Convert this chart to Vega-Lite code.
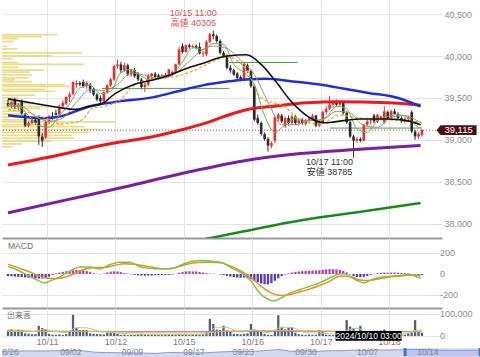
{
  "$schema": "https://vega.github.io/schema/vega-lite/v6.json",
  "padding": 0,
  "background": "white",
  "spacing": 0,
  "config": {
    "view": {"stroke": null},
    "font": "Liberation Sans, Noto Sans CJK JP",
    "axis": {"labelColor": "#8c8c8c", "labelFontSize": 9, "labelFont": "Liberation Sans", "gridColor": "#e3e3e3", "title": null, "domain": false, "ticks": false, "labelOverlap": false}
  },
  "datasets": {
    "candles": [
      {"i":0,"o":39440,"h":39480,"l":39390,"c":39410},{"i":1,"o":39410,"h":39460,"l":39380,"c":39450},{"i":2,"o":39480,"h":39500,"l":39370,"c":39390},{"i":3,"o":39390,"h":39440,"l":39350,"c":39420},
      {"i":4,"o":39460,"h":39480,"l":39300,"c":39315},{"i":5,"o":39300,"h":39320,"l":39150,"c":39170},{"i":6,"o":39170,"h":39220,"l":39150,"c":39200},{"i":7,"o":39200,"h":39260,"l":39180,"c":39240},
      {"i":8,"o":39240,"h":39260,"l":39180,"c":39200},{"i":9,"o":39270,"h":39290,"l":38940,"c":39040},{"i":10,"o":39040,"h":39080,"l":38915,"c":38990},{"i":11,"o":39030,"h":39230,"l":39010,"c":39215},
      {"i":12,"o":39215,"h":39300,"l":39190,"c":39280},{"i":13,"o":39280,"h":39330,"l":39240,"c":39260},{"i":14,"o":39320,"h":39360,"l":39290,"c":39300},{"i":15,"o":39300,"h":39420,"l":39280,"c":39400},
      {"i":16,"o":39400,"h":39470,"l":39380,"c":39440},{"i":17,"o":39430,"h":39520,"l":39410,"c":39510},{"i":18,"o":39510,"h":39570,"l":39450,"c":39540},{"i":19,"o":39550,"h":39700,"l":39530,"c":39690},
      {"i":20,"o":39660,"h":39710,"l":39620,"c":39680},{"i":21,"o":39680,"h":39700,"l":39640,"c":39660},{"i":22,"o":39690,"h":39720,"l":39620,"c":39640},{"i":23,"o":39640,"h":39700,"l":39610,"c":39680},
      {"i":24,"o":39660,"h":39680,"l":39560,"c":39590},{"i":25,"o":39610,"h":39630,"l":39520,"c":39540},{"i":26,"o":39540,"h":39560,"l":39460,"c":39480},{"i":27,"o":39500,"h":39530,"l":39430,"c":39460},
      {"i":28,"o":39460,"h":39580,"l":39440,"c":39570},{"i":29,"o":39570,"h":39660,"l":39550,"c":39650},{"i":30,"o":39650,"h":39740,"l":39630,"c":39720},{"i":31,"o":39720,"h":39900,"l":39700,"c":39880},
      {"i":32,"o":39880,"h":39960,"l":39850,"c":39900},{"i":33,"o":39900,"h":39930,"l":39800,"c":39830},{"i":34,"o":39830,"h":39920,"l":39810,"c":39890},{"i":35,"o":39890,"h":39910,"l":39760,"c":39780},
      {"i":36,"o":39780,"h":39850,"l":39750,"c":39830},{"i":37,"o":39830,"h":39860,"l":39740,"c":39760},{"i":38,"o":39790,"h":39810,"l":39700,"c":39720},{"i":39,"o":39720,"h":39740,"l":39600,"c":39630},
      {"i":40,"o":39630,"h":39680,"l":39570,"c":39660},{"i":41,"o":39660,"h":39790,"l":39640,"c":39770},{"i":42,"o":39760,"h":39800,"l":39720,"c":39790},{"i":43,"o":39790,"h":39810,"l":39730,"c":39750},
      {"i":44,"o":39770,"h":39790,"l":39720,"c":39740},{"i":45,"o":39750,"h":39790,"l":39730,"c":39770},{"i":46,"o":39770,"h":39800,"l":39745,"c":39760},{"i":47,"o":39760,"h":39850,"l":39750,"c":39840},
      {"i":48,"o":39780,"h":39830,"l":39760,"c":39810},{"i":49,"o":39810,"h":39910,"l":39790,"c":39900},{"i":50,"o":39900,"h":40110,"l":39890,"c":40080},{"i":51,"o":40120,"h":40150,"l":40030,"c":40050},
      {"i":52,"o":40050,"h":40140,"l":40040,"c":40130},{"i":53,"o":40130,"h":40150,"l":40090,"c":40110},{"i":54,"o":40110,"h":40140,"l":40090,"c":40120},{"i":55,"o":40120,"h":40140,"l":40080,"c":40100},
      {"i":56,"o":40110,"h":40160,"l":40020,"c":40030},{"i":57,"o":40030,"h":40060,"l":39990,"c":40040},{"i":58,"o":40020,"h":40190,"l":40000,"c":40170},{"i":59,"o":40170,"h":40280,"l":40150,"c":40260},
      {"i":60,"o":40260,"h":40305,"l":40200,"c":40240},{"i":61,"o":40240,"h":40260,"l":40160,"c":40180},{"i":62,"o":40180,"h":40200,"l":40020,"c":40040},{"i":63,"o":40040,"h":40060,"l":39980,"c":40000},
      {"i":64,"o":40000,"h":40020,"l":39840,"c":39860},{"i":65,"o":39860,"h":39890,"l":39800,"c":39830},{"i":66,"o":39830,"h":39850,"l":39760,"c":39780},{"i":67,"o":39790,"h":39810,"l":39720,"c":39740},
      {"i":68,"o":39750,"h":39770,"l":39700,"c":39720},{"i":69,"o":39720,"h":39930,"l":39700,"c":39910},{"i":70,"o":39890,"h":39910,"l":39800,"c":39820},{"i":71,"o":39820,"h":39840,"l":39620,"c":39640},
      {"i":72,"o":39640,"h":39660,"l":39220,"c":39240},{"i":73,"o":39260,"h":39300,"l":39180,"c":39200},{"i":74,"o":39200,"h":39220,"l":39050,"c":39070},{"i":75,"o":39070,"h":39090,"l":38990,"c":39010},
      {"i":76,"o":39010,"h":39030,"l":38860,"c":38930},{"i":77,"o":38930,"h":38980,"l":38900,"c":38960},{"i":78,"o":38990,"h":39290,"l":38960,"c":39270},{"i":79,"o":39250,"h":39320,"l":39220,"c":39300},
      {"i":80,"o":39290,"h":39310,"l":39200,"c":39220},{"i":81,"o":39160,"h":39280,"l":39140,"c":39260},{"i":82,"o":39260,"h":39290,"l":39170,"c":39200},{"i":83,"o":39200,"h":39300,"l":39180,"c":39280},
      {"i":84,"o":39280,"h":39300,"l":39180,"c":39200},{"i":85,"o":39200,"h":39260,"l":39170,"c":39240},{"i":86,"o":39240,"h":39260,"l":39180,"c":39200},{"i":87,"o":39190,"h":39250,"l":39170,"c":39230},
      {"i":88,"o":39230,"h":39270,"l":39200,"c":39250},{"i":89,"o":39250,"h":39310,"l":39230,"c":39290},{"i":90,"o":39290,"h":39300,"l":39150,"c":39170},{"i":91,"o":39170,"h":39230,"l":39150,"c":39210},
      {"i":92,"o":39210,"h":39350,"l":39190,"c":39330},{"i":93,"o":39330,"h":39400,"l":39300,"c":39370},{"i":94,"o":39370,"h":39520,"l":39350,"c":39420},{"i":95,"o":39420,"h":39470,"l":39380,"c":39450},
      {"i":96,"o":39450,"h":39480,"l":39400,"c":39420},{"i":97,"o":39420,"h":39460,"l":39400,"c":39440},{"i":98,"o":39440,"h":39460,"l":39300,"c":39320},{"i":99,"o":39320,"h":39340,"l":39190,"c":39210},
      {"i":100,"o":39210,"h":39230,"l":39020,"c":39040},{"i":101,"o":39040,"h":39060,"l":38785,"c":38990},{"i":102,"o":38990,"h":39030,"l":38960,"c":39010},{"i":103,"o":39010,"h":39030,"l":38970,"c":38990},
      {"i":104,"o":38990,"h":39190,"l":38980,"c":39180},{"i":105,"o":39180,"h":39240,"l":39160,"c":39220},{"i":106,"o":39220,"h":39260,"l":39190,"c":39230},{"i":107,"o":39290,"h":39310,"l":39200,"c":39220},
      {"i":108,"o":39220,"h":39310,"l":39200,"c":39300},{"i":109,"o":39250,"h":39290,"l":39230,"c":39280},{"i":110,"o":39210,"h":39400,"l":39190,"c":39340},{"i":111,"o":39330,"h":39350,"l":39240,"c":39260},
      {"i":112,"o":39260,"h":39360,"l":39240,"c":39340},{"i":113,"o":39340,"h":39370,"l":39300,"c":39310},{"i":114,"o":39310,"h":39330,"l":39240,"c":39260},{"i":115,"o":39260,"h":39280,"l":39200,"c":39220},
      {"i":116,"o":39220,"h":39270,"l":39200,"c":39250},{"i":117,"o":39250,"h":39290,"l":39230,"c":39270},{"i":118,"o":39330,"h":39350,"l":39080,"c":39100},{"i":119,"o":39100,"h":39120,"l":39000,"c":39040},
      {"i":120,"o":39040,"h":39090,"l":39010,"c":39070},{"i":121,"o":39060,"h":39130,"l":39040,"c":39115}
    ],
    "prof": [
      {"p":40255,"vol":55},{"p":40232,"vol":40},{"p":40209,"vol":17},{"p":40175,"vol":12},{"p":40118,"vol":5},{"p":40084,"vol":15},
      {"p":40038,"vol":80},{"p":40003,"vol":50},{"p":39969,"vol":10},{"p":39923,"vol":17},{"p":39900,"vol":82},{"p":39866,"vol":17},
      {"p":39832,"vol":42},{"p":39809,"vol":28},{"p":39775,"vol":30},{"p":39740,"vol":27},{"p":39717,"vol":13},{"p":39695,"vol":30},
      {"p":39660,"vol":63},{"p":39637,"vol":67},{"p":39603,"vol":43},{"p":39580,"vol":53},{"p":39534,"vol":33},{"p":39500,"vol":17},
      {"p":39466,"vol":12},{"p":39431,"vol":32},{"p":39397,"vol":57},{"p":39374,"vol":38},{"p":39340,"vol":18},{"p":39306,"vol":25},
      {"p":39271,"vol":40},{"p":39237,"vol":38},{"p":39214,"vol":113},{"p":39180,"vol":60},{"p":39157,"vol":83},{"p":39123,"vol":100},
      {"p":39088,"vol":87},{"p":39054,"vol":70},{"p":39020,"vol":72},{"p":38985,"vol":50},{"p":38951,"vol":20},{"p":38917,"vol":10}
    ],
    "ma": [
      {"s":"h1","i":27.4,"v":39614},{"s":"h1","i":64.6,"v":39614},
      {"s":"h2","i":64.6,"v":39923},{"s":"h2","i":84.6,"v":39923},
      {"s":"h3","i":94,"v":39140},{"s":"h3","i":120.6,"v":39140},
      {"s":"g","i":56.8,"v":37808},{"s":"g","i":68.3,"v":37902},{"s":"g","i":85.4,"v":38036},{"s":"g","i":102.6,"v":38139},{"s":"g","i":120.6,"v":38245},
      {"s":"p","i":0,"v":38128},{"s":"p","i":16.8,"v":38280},{"s":"p","i":34,"v":38436},{"s":"p","i":51.1,"v":38600},{"s":"p","i":68.3,"v":38745},{"s":"p","i":85.4,"v":38836},{"s":"p","i":102.6,"v":38886},{"s":"p","i":120.6,"v":38932},
      {"s":"r","i":0,"v":38699},{"s":"r","i":14,"v":38810},{"s":"r","i":28.3,"v":38940},{"s":"r","i":42.6,"v":39040},{"s":"r","i":51.1,"v":39123},{"s":"r","i":58.8,"v":39214},{"s":"r","i":64,"v":39290},{"s":"r","i":69.7,"v":39360},{"s":"r","i":76.9,"v":39397},{"s":"r","i":87.4,"v":39443},{"s":"r","i":96.9,"v":39454},{"s":"r","i":111.1,"v":39443},{"s":"r","i":120.6,"v":39414},
      {"s":"b","i":0,"v":39294},{"s":"b","i":5.4,"v":39271},{"s":"b","i":10.3,"v":39258},{"s":"b","i":15.4,"v":39280},{"s":"b","i":19.7,"v":39340},{"s":"b","i":24,"v":39400},{"s":"b","i":31.1,"v":39450},{"s":"b","i":42.6,"v":39510},{"s":"b","i":49.7,"v":39580},{"s":"b","i":56.9,"v":39650},{"s":"b","i":64,"v":39695},{"s":"b","i":69.7,"v":39720},{"s":"b","i":75.4,"v":39729},{"s":"b","i":82.6,"v":39700},{"s":"b","i":91.1,"v":39660},{"s":"b","i":98.3,"v":39610},{"s":"b","i":105.4,"v":39560},{"s":"b","i":114,"v":39500},{"s":"b","i":120.6,"v":39400},
      {"s":"y","i":0,"v":39360},{"s":"y","i":5.4,"v":39330},{"s":"y","i":11.1,"v":39260},{"s":"y","i":15.4,"v":39190},{"s":"y","i":18.3,"v":39200},{"s":"y","i":21.7,"v":39240},{"s":"y","i":24.8,"v":39380},{"s":"y","i":28.3,"v":39400},{"s":"y","i":32.6,"v":39470},{"s":"y","i":36.8,"v":39650},{"s":"y","i":42.6,"v":39730},{"s":"y","i":48.3,"v":39750},{"s":"y","i":54,"v":39820},{"s":"y","i":59.7,"v":39930},{"s":"y","i":64,"v":39990},{"s":"y","i":69.7,"v":39840},{"s":"y","i":74,"v":39500},{"s":"y","i":81.1,"v":39390},{"s":"y","i":85.4,"v":39230},{"s":"y","i":91.1,"v":39190},{"s":"y","i":96.9,"v":39294},{"s":"y","i":102.6,"v":39260},{"s":"y","i":108.3,"v":39250},{"s":"y","i":114,"v":39230},{"s":"y","i":120.6,"v":39214},
      {"s":"br","i":0,"v":39420},{"s":"br","i":4,"v":39400},{"s":"br","i":8,"v":39280},{"s":"br","i":12,"v":39220},{"s":"br","i":16,"v":39260},{"s":"br","i":20,"v":39450},{"s":"br","i":24,"v":39600},{"s":"br","i":28,"v":39590},{"s":"br","i":32,"v":39660},{"s":"br","i":36,"v":39800},{"s":"br","i":40,"v":39770},{"s":"br","i":44,"v":39730},{"s":"br","i":48,"v":39770},{"s":"br","i":52,"v":39900},{"s":"br","i":56,"v":40050},{"s":"br","i":60,"v":40120},{"s":"br","i":64,"v":40090},{"s":"br","i":68,"v":39950},{"s":"br","i":72,"v":39780},{"s":"br","i":76,"v":39450},{"s":"br","i":80,"v":39180},{"s":"br","i":84,"v":39180},{"s":"br","i":88,"v":39230},{"s":"br","i":92,"v":39240},{"s":"br","i":96,"v":39340},{"s":"br","i":100,"v":39320},{"s":"br","i":104,"v":39170},{"s":"br","i":108,"v":39150},{"s":"br","i":112,"v":39270},{"s":"br","i":116,"v":39290},{"s":"br","i":120,"v":39220},{"s":"br","i":121,"v":39200},
      {"s":"g5","i":0,"v":39400},{"s":"g5","i":3,"v":39400},{"s":"g5","i":6,"v":39290},{"s":"g5","i":9,"v":39170},{"s":"g5","i":12,"v":39150},{"s":"g5","i":15,"v":39290},{"s":"g5","i":18,"v":39430},{"s":"g5","i":21,"v":39620},{"s":"g5","i":24,"v":39650},{"s":"g5","i":27,"v":39550},{"s":"g5","i":30,"v":39580},{"s":"g5","i":33,"v":39800},{"s":"g5","i":36,"v":39840},{"s":"g5","i":39,"v":39760},{"s":"g5","i":42,"v":39710},{"s":"g5","i":45,"v":39760},{"s":"g5","i":48,"v":39790},{"s":"g5","i":51,"v":39930},{"s":"g5","i":54,"v":40100},{"s":"g5","i":57,"v":40080},{"s":"g5","i":60,"v":40150},{"s":"g5","i":63,"v":40140},{"s":"g5","i":66,"v":39900},{"s":"g5","i":69,"v":39800},{"s":"g5","i":72,"v":39660},{"s":"g5","i":75,"v":39290},{"s":"g5","i":78,"v":39090},{"s":"g5","i":81,"v":39180},{"s":"g5","i":84,"v":39250},{"s":"g5","i":87,"v":39230},{"s":"g5","i":90,"v":39230},{"s":"g5","i":93,"v":39270},{"s":"g5","i":96,"v":39400},{"s":"g5","i":99,"v":39370},{"s":"g5","i":102,"v":39130},{"s":"g5","i":105,"v":39090},{"s":"g5","i":108,"v":39230},{"s":"g5","i":111,"v":39280},{"s":"g5","i":114,"v":39300},{"s":"g5","i":117,"v":39260},{"s":"g5","i":120,"v":39150},{"s":"g5","i":121,"v":39140},
      {"s":"k","i":0,"v":39489},{"s":"k","i":8.3,"v":39431},{"s":"k","i":14.8,"v":39386},{"s":"k","i":19.7,"v":39363},{"s":"k","i":23.4,"v":39397},{"s":"k","i":27.4,"v":39431},{"s":"k","i":31.1,"v":39546},{"s":"k","i":36.8,"v":39660},{"s":"k","i":42.6,"v":39717},{"s":"k","i":47.4,"v":39775},{"s":"k","i":53.1,"v":39866},{"s":"k","i":57.7,"v":39923},{"s":"k","i":61.7,"v":39980},{"s":"k","i":64.6,"v":40003},{"s":"k","i":69.7,"v":40015},{"s":"k","i":74,"v":39900},{"s":"k","i":78.3,"v":39695},{"s":"k","i":82.6,"v":39466},{"s":"k","i":85.4,"v":39351},{"s":"k","i":88.3,"v":39260},{"s":"k","i":92.6,"v":39203},{"s":"k","i":95.4,"v":39214},{"s":"k","i":102.6,"v":39249},{"s":"k","i":111.1,"v":39249},{"s":"k","i":116.9,"v":39226},{"s":"k","i":120.6,"v":39180}
    ],
    "tag": [{"p":39115,"lab":"39,115"}],
    "hi": [{"i":60,"p":40305,"t":["10/15 11:00","高値 40305"]}],
    "lo": [{"i":101,"p":38785,"t":["10/17 11:00","安値 38785"]}],
    "hist": [
      {"i":0,"h":-20},{"i":1,"h":-22},{"i":2,"h":-25},{"i":3,"h":-27},{"i":4,"h":-30},{"i":5,"h":-33},{"i":6,"h":-36},{"i":7,"h":-38},{"i":8,"h":-41},{"i":9,"h":-44},
      {"i":10,"h":-43},{"i":11,"h":-38},{"i":12,"h":-25},{"i":13,"h":-8},{"i":14,"h":6},{"i":15,"h":14},{"i":16,"h":20},{"i":17,"h":27},{"i":18,"h":32},{"i":19,"h":36},
      {"i":20,"h":38},{"i":21,"h":37},{"i":22,"h":33},{"i":23,"h":27},{"i":24,"h":18},{"i":25,"h":8},{"i":26,"h":2},{"i":27,"h":-2},{"i":28,"h":4},{"i":29,"h":14},
      {"i":30,"h":22},{"i":31,"h":25},{"i":32,"h":24},{"i":33,"h":18},{"i":34,"h":10},{"i":35,"h":4},{"i":36,"h":-3},{"i":37,"h":-9},{"i":38,"h":-13},{"i":39,"h":-15},
      {"i":40,"h":-16},{"i":41,"h":-15},{"i":42,"h":-14},{"i":43,"h":-12},{"i":44,"h":-11},{"i":45,"h":-10},{"i":46,"h":-9},{"i":47,"h":-8},{"i":48,"h":-5},{"i":49,"h":2},
      {"i":50,"h":12},{"i":51,"h":20},{"i":52,"h":24},{"i":53,"h":26},{"i":54,"h":25},{"i":55,"h":24},{"i":56,"h":20},{"i":57,"h":14},{"i":58,"h":8},{"i":59,"h":4},
      {"i":60,"h":3},{"i":61,"h":0},{"i":62,"h":-4},{"i":63,"h":-10},{"i":64,"h":-18},{"i":65,"h":-24},{"i":66,"h":-30},{"i":67,"h":-34},{"i":68,"h":-36},{"i":69,"h":-34},
      {"i":70,"h":-40},{"i":71,"h":-50},{"i":72,"h":-65},{"i":73,"h":-78},{"i":74,"h":-90},{"i":75,"h":-98},{"i":76,"h":-100},{"i":77,"h":-88},{"i":78,"h":-65},{"i":79,"h":-42},
      {"i":80,"h":-20},{"i":81,"h":-5},{"i":82,"h":6},{"i":83,"h":14},{"i":84,"h":20},{"i":85,"h":24},{"i":86,"h":27},{"i":87,"h":29},{"i":88,"h":32},{"i":89,"h":34},
      {"i":90,"h":34},{"i":91,"h":36},{"i":92,"h":40},{"i":93,"h":44},{"i":94,"h":47},{"i":95,"h":46},{"i":96,"h":44},{"i":97,"h":40},{"i":98,"h":30},{"i":99,"h":15},
      {"i":100,"h":-5},{"i":101,"h":-20},{"i":102,"h":-28},{"i":103,"h":-31},{"i":104,"h":-27},{"i":105,"h":-18},{"i":106,"h":-8},{"i":107,"h":2},{"i":108,"h":8},{"i":109,"h":11},
      {"i":110,"h":13},{"i":111,"h":12},{"i":112,"h":13},{"i":113,"h":14},{"i":114,"h":13},{"i":115,"h":10},{"i":116,"h":8},{"i":117,"h":6},{"i":118,"h":0},{"i":119,"h":-6},
      {"i":120,"h":-9},{"i":121,"h":-10}
    ],
    "macd": [
      {"s":"m","i":0,"v":72},{"s":"m","i":2.6,"v":40},{"s":"m","i":5.4,"v":-7},{"s":"m","i":8.3,"v":-54},{"s":"m","i":10.6,"v":-85},{"s":"m","i":12.6,"v":-63},{"s":"m","i":15.4,"v":-22},{"s":"m","i":18.3,"v":31},{"s":"m","i":21.1,"v":66},{"s":"m","i":24,"v":66},{"s":"m","i":26.8,"v":47},{"s":"m","i":29.7,"v":88},{"s":"m","i":32.6,"v":113},{"s":"m","i":35.4,"v":113},{"s":"m","i":38.3,"v":72},{"s":"m","i":41.1,"v":56},{"s":"m","i":45.4,"v":50},{"s":"m","i":48.3,"v":56},{"s":"m","i":51.1,"v":94},{"s":"m","i":54,"v":122},{"s":"m","i":56.9,"v":129},{"s":"m","i":59.7,"v":122},{"s":"m","i":62.6,"v":107},{"s":"m","i":65.4,"v":56},{"s":"m","i":68.3,"v":9},{"s":"m","i":71.1,"v":-70},{"s":"m","i":73.1,"v":-164},{"s":"m","i":75.4,"v":-230},{"s":"m","i":77.7,"v":-258},{"s":"m","i":79.7,"v":-230},{"s":"m","i":82.6,"v":-180},{"s":"m","i":85.4,"v":-148},{"s":"m","i":88.3,"v":-117},{"s":"m","i":91.1,"v":-85},{"s":"m","i":94,"v":-38},{"s":"m","i":96.9,"v":0},{"s":"m","i":98.3,"v":3},{"s":"m","i":99.7,"v":-22},{"s":"m","i":102.6,"v":-70},{"s":"m","i":104,"v":-85},{"s":"m","i":106.3,"v":-54},{"s":"m","i":109.1,"v":-31},{"s":"m","i":112,"v":-22},{"s":"m","i":114.9,"v":-13},{"s":"m","i":117.7,"v":-6},{"s":"m","i":119.7,"v":-31},{"s":"m","i":120.6,"v":-38},
      {"s":"sg","i":0,"v":94},{"s":"sg","i":2.6,"v":63},{"s":"sg","i":5.4,"v":31},{"s":"sg","i":8.3,"v":-7},{"s":"sg","i":11.1,"v":-38},{"s":"sg","i":14,"v":-44},{"s":"sg","i":16.9,"v":-28},{"s":"sg","i":19.7,"v":9},{"s":"sg","i":22.6,"v":47},{"s":"sg","i":25.4,"v":63},{"s":"sg","i":28.3,"v":63},{"s":"sg","i":31.1,"v":82},{"s":"sg","i":34,"v":97},{"s":"sg","i":36.9,"v":94},{"s":"sg","i":39.7,"v":79},{"s":"sg","i":42.6,"v":63},{"s":"sg","i":45.4,"v":50},{"s":"sg","i":48.3,"v":56},{"s":"sg","i":51.1,"v":82},{"s":"sg","i":54,"v":104},{"s":"sg","i":56.9,"v":113},{"s":"sg","i":59.7,"v":113},{"s":"sg","i":62.6,"v":104},{"s":"sg","i":65.4,"v":72},{"s":"sg","i":68.3,"v":25},{"s":"sg","i":71.1,"v":-38},{"s":"sg","i":74,"v":-117},{"s":"sg","i":76.9,"v":-180},{"s":"sg","i":79.7,"v":-205},{"s":"sg","i":82.6,"v":-195},{"s":"sg","i":85.4,"v":-170},{"s":"sg","i":88.3,"v":-142},{"s":"sg","i":91.1,"v":-110},{"s":"sg","i":94,"v":-70},{"s":"sg","i":96.9,"v":-22},{"s":"sg","i":99.7,"v":-22},{"s":"sg","i":102.6,"v":-54},{"s":"sg","i":105.4,"v":-63},{"s":"sg","i":108.3,"v":-47},{"s":"sg","i":111.1,"v":-31},{"s":"sg","i":114,"v":-22},{"s":"sg","i":116.9,"v":-13},{"s":"sg","i":119.7,"v":-13},{"s":"sg","i":120.6,"v":-16}
    ],
    "vol": [
      {"i":0,"v":25000},{"i":1,"v":30000},{"i":2,"v":24000},{"i":3,"v":29000},{"i":4,"v":27000},{"i":5,"v":12000},{"i":6,"v":10000},{"i":7,"v":8000},{"i":8,"v":9000},{"i":9,"v":46000},
      {"i":10,"v":36000},{"i":11,"v":30000},{"i":12,"v":10000},{"i":13,"v":6000},{"i":14,"v":5000},{"i":15,"v":7000},{"i":16,"v":5000},{"i":17,"v":8000},{"i":18,"v":20000},{"i":19,"v":96000},
      {"i":20,"v":36000},{"i":21,"v":27000},{"i":22,"v":28000},{"i":23,"v":27000},{"i":24,"v":12000},{"i":25,"v":10000},{"i":26,"v":9000},{"i":27,"v":8000},{"i":28,"v":7000},{"i":29,"v":15000},
      {"i":30,"v":18000},{"i":31,"v":17000},{"i":32,"v":10000},{"i":33,"v":5000},{"i":34,"v":6000},{"i":35,"v":4000},{"i":36,"v":5000},{"i":37,"v":5000},{"i":38,"v":9000},{"i":39,"v":10000},
      {"i":40,"v":8000},{"i":41,"v":5000},{"i":42,"v":7000},{"i":43,"v":6000},{"i":44,"v":5000},{"i":45,"v":4000},{"i":46,"v":6000},{"i":47,"v":5000},{"i":48,"v":7000},{"i":49,"v":8000},
      {"i":50,"v":10000},{"i":51,"v":9000},{"i":52,"v":5000},{"i":53,"v":4000},{"i":54,"v":5000},{"i":55,"v":6000},{"i":56,"v":5000},{"i":57,"v":7000},{"i":58,"v":17000},{"i":59,"v":77000},
      {"i":60,"v":55000},{"i":61,"v":29000},{"i":62,"v":27000},{"i":63,"v":46000},{"i":64,"v":26000},{"i":65,"v":20000},{"i":66,"v":10000},{"i":67,"v":9000},{"i":68,"v":8000},{"i":69,"v":10000},
      {"i":70,"v":12000},{"i":71,"v":55000},{"i":72,"v":29000},{"i":73,"v":27000},{"i":74,"v":20000},{"i":75,"v":10000},{"i":76,"v":6000},{"i":77,"v":5000},{"i":78,"v":25000},{"i":79,"v":94000},
      {"i":80,"v":40000},{"i":81,"v":30000},{"i":82,"v":36000},{"i":83,"v":40000},{"i":84,"v":15000},{"i":85,"v":8000},{"i":86,"v":6000},{"i":87,"v":5000},{"i":88,"v":7000},{"i":89,"v":5000},
      {"i":90,"v":6000},{"i":91,"v":27000},{"i":92,"v":22000},{"i":93,"v":6000},{"i":94,"v":5000},{"i":95,"v":4000},{"i":96,"v":5000},{"i":97,"v":8000},{"i":98,"v":20000},{"i":99,"v":72000},
      {"i":100,"v":43000},{"i":101,"v":36000},{"i":102,"v":15000},{"i":103,"v":46000},{"i":104,"v":10000},{"i":105,"v":8000},{"i":106,"v":7000},{"i":107,"v":6000},{"i":108,"v":10000},{"i":109,"v":25000},
      {"i":110,"v":30000},{"i":111,"v":10000},{"i":112,"v":5000},{"i":113,"v":6000},{"i":114,"v":4000},{"i":115,"v":5000},{"i":116,"v":6000},{"i":117,"v":12000},{"i":118,"v":16000},{"i":119,"v":72000},
      {"i":120,"v":20000},{"i":121,"v":15000}
    ],
    "volma": [
      {"s":"vp","i":-0.3,"v":21000},{"s":"vp","i":121,"v":21000},
      {"s":"vo","i":0,"v":20000},{"s":"vo","i":20,"v":22000},{"s":"vo","i":40,"v":15000},{"s":"vo","i":58,"v":14000},{"s":"vo","i":64,"v":22000},{"s":"vo","i":80,"v":25000},{"s":"vo","i":95,"v":22000},{"s":"vo","i":110,"v":18000},{"s":"vo","i":121,"v":20000},
      {"s":"vg","i":0,"v":28000},{"s":"vg","i":4,"v":26000},{"s":"vg","i":8,"v":20000},{"s":"vg","i":10,"v":30000},{"s":"vg","i":14,"v":20000},{"s":"vg","i":17,"v":15000},{"s":"vg","i":20,"v":38000},{"s":"vg","i":23,"v":37000},{"s":"vg","i":27,"v":20000},{"s":"vg","i":31,"v":15000},{"s":"vg","i":36,"v":9000},{"s":"vg","i":45,"v":7000},{"s":"vg","i":55,"v":7000},{"s":"vg","i":58,"v":10000},{"s":"vg","i":61,"v":40000},{"s":"vg","i":64,"v":38000},{"s":"vg","i":68,"v":18000},{"s":"vg","i":72,"v":28000},{"s":"vg","i":76,"v":15000},{"s":"vg","i":80,"v":40000},{"s":"vg","i":83,"v":38000},{"s":"vg","i":87,"v":15000},{"s":"vg","i":92,"v":13000},{"s":"vg","i":96,"v":8000},{"s":"vg","i":99,"v":25000},{"s":"vg","i":102,"v":35000},{"s":"vg","i":106,"v":15000},{"s":"vg","i":110,"v":14000},{"s":"vg","i":115,"v":9000},{"s":"vg","i":119,"v":25000},{"s":"vg","i":121,"v":28000}
    ],
    "tip": [{"t":"2024/10/10 03:00"}],
    "nav": [
      {"d":0,"p":38110},{"d":0.5,"p":38110},{"d":1.5,"p":38290},{"d":2.5,"p":38370},{"d":3.5,"p":38360},{"d":4.5,"p":38650},{"d":5.5,"p":38700},{"d":6.5,"p":38680},{"d":7.5,"p":37050},{"d":8.5,"p":36660},
      {"d":9.5,"p":36390},{"d":10.5,"p":36160},{"d":11.5,"p":36160},{"d":12.5,"p":35620},{"d":13.5,"p":36830},{"d":14.5,"p":36580},{"d":15.5,"p":36200},{"d":16.5,"p":36380},{"d":17.5,"p":37150},{"d":18.5,"p":37720},
      {"d":19.5,"p":37940},{"d":20.5,"p":37870},{"d":21.5,"p":38930},{"d":22.5,"p":39830},{"d":23.5,"p":37920},{"d":24.5,"p":38650},{"d":25.5,"p":37800},{"d":26.5,"p":38550},{"d":27.5,"p":38630},{"d":28.5,"p":39330},
      {"d":29.5,"p":38940},{"d":30.5,"p":39280},{"d":31.5,"p":39380},{"d":32.5,"p":39600},{"d":33.5,"p":39910},{"d":34.5,"p":39910},{"d":35.5,"p":39180},{"d":36.5,"p":38910},{"d":37.5,"p":38980},{"d":38.5,"p":39100},{"d":39,"p":39115}
    ],
    "sel": [{"a":32.75,"b":38.85}],
    "navlab": [{"d":0.5,"t":"08/26"},{"d":5.6,"t":"09/02"},{"d":10.6,"t":"09/09"},{"d":15.6,"t":"09/17"},{"d":19.6,"t":"09/23"},{"d":24.7,"t":"09/30"},{"d":29.7,"t":"10/07"},{"d":34.6,"t":"10/14"}],
    "macdax": [{"v":200,"t":"200"},{"v":0,"t":"0"},{"v":-200,"t":"-200"}],
    "volax": [{"v":100000,"t":"100,000"},{"v":0,"t":"0"}]
  },
  "vconcat": [
    {
      "width": 440,
      "height": 238,
      "resolve": {"scale": {"x": "independent"}},
      "layer": [
        {
          "data": {"name": "prof"},
          "mark": {"type": "bar", "orient": "horizontal", "size": 1.7, "color": "#e6d36c", "opacity": 0.8},
          "encoding": {
            "x": {"field": "vol", "type": "quantitative", "scale": {"domain": [0, 440], "nice": false}, "axis": null},
            "y": {"field": "p", "type": "quantitative", "scale": {"domain": [37887, 40610], "nice": false, "zero": false}}
          }
        },
        {
          "layer": [
            {
              "data": {"name": "candles"},
              "mark": {"type": "rule", "strokeWidth": 1},
              "encoding": {
                "x": {"field": "i", "type": "quantitative", "scale": {"domain": [-0.3, 125.4], "nice": false, "zero": false},
                  "axis": {"orient": "bottom", "values": [11.4, 31.4, 51.4, 71.4, 91.4, 111.4], "labels": false, "ticks": false, "grid": true, "domain": true, "domainColor": "#9a9a9a", "domainWidth": 2}},
                "y": {"field": "l", "type": "quantitative", "scale": {"domain": [37887, 40610], "nice": false, "zero": false},
                  "axis": {"orient": "right", "title": null,
                    "values": [38000,38125,38250,38375,38500,38625,38750,38875,39000,39125,39250,39375,39500,39625,39750,39875,40000,40125,40250,40375,40500],
                    "labelExpr": "datum.value % 500 == 0 ? format(datum.value, ',') : ''",
                    "grid": true,
                    "gridOpacity": {"condition": {"test": "datum.value % 500 == 0", "value": 1}, "value": 0},
                    "ticks": true, "tickSize": 4, "tickColor": "#c4c4c4",
                    "tickOpacity": {"condition": {"test": "datum.value % 500 == 0", "value": 0}, "value": 1},
                    "labelPadding": -2}},
                "y2": {"field": "h"},
                "color": {"condition": {"test": "datum.c >= datum.o", "value": "#ee2b2b"}, "value": "#2b2b2b"}
              }
            },
            {
              "data": {"name": "tag"},
              "mark": {"type": "rule", "color": "#9b5a5a", "strokeDash": [1, 2], "strokeWidth": 1},
              "encoding": {"y": {"field": "p", "type": "quantitative"}}
            },
            {
              "data": {"name": "ma"},
              "transform": [{"filter": {"field": "s", "oneOf": ["h1", "h2", "h3"]}}],
              "mark": {"type": "line", "color": "#4a9e4a", "strokeWidth": 1},
              "encoding": {"x": {"field": "i", "type": "quantitative"}, "y": {"field": "v", "type": "quantitative"}, "detail": {"field": "s"}}
            },
            {
              "data": {"name": "candles"},
              "mark": {"type": "bar", "size": 2.6},
              "encoding": {
                "x": {"field": "i", "type": "quantitative"},
                "y": {"field": "o", "type": "quantitative"},
                "y2": {"field": "c"},
                "color": {"condition": {"test": "datum.c >= datum.o", "value": "#ee2b2b"}, "value": "#2b2b2b"}
              }
            },
            {
              "data": {"name": "ma"},
              "transform": [{"filter": {"field": "s", "equal": "g"}}],
              "mark": {"type": "line", "color": "#1b8a1b", "strokeWidth": 2.5, "interpolate": "monotone", "clip": true},
              "encoding": {"x": {"field": "i", "type": "quantitative"}, "y": {"field": "v", "type": "quantitative"}}
            },
            {
              "data": {"name": "ma"},
              "transform": [{"filter": {"field": "s", "equal": "p"}}],
              "mark": {"type": "line", "color": "#7a1fa0", "strokeWidth": 3, "interpolate": "monotone"},
              "encoding": {"x": {"field": "i", "type": "quantitative"}, "y": {"field": "v", "type": "quantitative"}}
            },
            {
              "data": {"name": "ma"},
              "transform": [{"filter": {"field": "s", "equal": "r"}}],
              "mark": {"type": "line", "color": "#ea1a1a", "strokeWidth": 3, "interpolate": "monotone"},
              "encoding": {"x": {"field": "i", "type": "quantitative"}, "y": {"field": "v", "type": "quantitative"}}
            },
            {
              "data": {"name": "ma"},
              "transform": [{"filter": {"field": "s", "equal": "b"}}],
              "mark": {"type": "line", "color": "#1f2fd6", "strokeWidth": 2.5, "interpolate": "monotone"},
              "encoding": {"x": {"field": "i", "type": "quantitative"}, "y": {"field": "v", "type": "quantitative"}}
            },
            {
              "data": {"name": "ma"},
              "transform": [{"filter": {"field": "s", "equal": "y"}}],
              "mark": {"type": "line", "color": "#e6a817", "strokeWidth": 1.2, "strokeDash": [3, 2], "interpolate": "monotone"},
              "encoding": {"x": {"field": "i", "type": "quantitative"}, "y": {"field": "v", "type": "quantitative"}}
            },
            {
              "data": {"name": "ma"},
              "transform": [{"filter": {"field": "s", "equal": "br"}}],
              "mark": {"type": "line", "color": "#a88a78", "strokeWidth": 1, "interpolate": "monotone"},
              "encoding": {"x": {"field": "i", "type": "quantitative"}, "y": {"field": "v", "type": "quantitative"}}
            },
            {
              "data": {"name": "ma"},
              "transform": [{"filter": {"field": "s", "equal": "g5"}}],
              "mark": {"type": "line", "color": "#5cb85c", "strokeWidth": 1, "interpolate": "monotone"},
              "encoding": {"x": {"field": "i", "type": "quantitative"}, "y": {"field": "v", "type": "quantitative"}}
            },
            {
              "data": {"name": "ma"},
              "transform": [{"filter": {"field": "s", "equal": "k"}}],
              "mark": {"type": "line", "color": "#111111", "strokeWidth": 1.6, "interpolate": "monotone"},
              "encoding": {"x": {"field": "i", "type": "quantitative"}, "y": {"field": "v", "type": "quantitative"}}
            },
            {
              "data": {"name": "hi"},
              "mark": {"type": "text", "color": "#e05050", "fontSize": 9, "align": "center", "baseline": "top", "dx": -20, "dy": -22, "lineHeight": 10},
              "encoding": {"x": {"field": "i", "type": "quantitative"}, "y": {"field": "p", "type": "quantitative"}, "text": {"field": "t"}}
            },
            {
              "data": {"name": "lo"},
              "mark": {"type": "text", "color": "#333333", "fontSize": 9, "align": "center", "baseline": "top", "dx": -24, "dy": 0, "lineHeight": 10},
              "encoding": {"x": {"field": "i", "type": "quantitative"}, "y": {"field": "p", "type": "quantitative"}, "text": {"field": "t"}}
            },
            {
              "data": {"name": "tag"},
              "mark": {"type": "point", "filled": true, "opacity": 1, "color": "#4b0f14", "size": 1296, "shape": "M-1.22,0L-1,-0.27L1,-0.27L1,0.27L-1,0.27Z"},
              "encoding": {"x": {"datum": 131.7, "type": "quantitative"}, "y": {"field": "p", "type": "quantitative"}}
            },
            {
              "data": {"name": "tag"},
              "mark": {"type": "text", "color": "white", "fontSize": 9.5, "align": "center", "baseline": "middle"},
              "encoding": {"x": {"datum": 131.7, "type": "quantitative"}, "y": {"field": "p", "type": "quantitative"}, "text": {"field": "lab"}}
            }
          ]
        }
      ]
    },
    {
      "width": 440,
      "height": 70,
      "layer": [
        {
          "data": {"name": "hist"},
          "mark": {"type": "bar", "size": 2.3},
          "encoding": {
            "x": {"field": "i", "type": "quantitative", "scale": {"domain": [-0.3, 125.4], "nice": false, "zero": false},
              "axis": {"orient": "bottom", "values": [11.4, 31.4, 51.4, 71.4, 91.4, 111.4], "labels": false, "ticks": false, "grid": true, "domain": true, "domainColor": "#9a9a9a", "domainWidth": 2}},
            "y": {"field": "h", "type": "quantitative", "scale": {"domain": [-325, 344], "nice": false, "zero": false},
              "axis": {"orient": "right", "values": [-200, 0, 200], "grid": true, "labels": false}},
            "color": {"condition": {"test": "datum.h >= 0", "value": "#bd3cb4"}, "value": "#5a38c6"}
          }
        },
        {
          "data": {"name": "macd"},
          "transform": [{"filter": {"field": "s", "equal": "sg"}}],
          "mark": {"type": "line", "interpolate": "monotone", "strokeWidth": 1.5, "color": "#f08a26"},
          "encoding": {"x": {"field": "i", "type": "quantitative"}, "y": {"field": "v", "type": "quantitative"}}
        },
        {
          "data": {"name": "macd"},
          "transform": [{"filter": {"field": "s", "equal": "m"}}],
          "mark": {"type": "line", "interpolate": "monotone", "strokeWidth": 1.5, "color": "#7cc63e"},
          "encoding": {"x": {"field": "i", "type": "quantitative"}, "y": {"field": "v", "type": "quantitative"}}
        },
        {
          "data": {"values": [{"t": "MACD"}]},
          "mark": {"type": "text", "color": "#6f6f6f", "fontSize": 8.5, "align": "left", "baseline": "top", "dx": 1, "dy": 4},
          "encoding": {"x": {"datum": -0.3, "type": "quantitative"}, "y": {"datum": 344, "type": "quantitative"}, "text": {"field": "t"}}
        },
        {
          "data": {"name": "macdax"},
          "mark": {"type": "text", "color": "#8c8c8c", "fontSize": 9, "font": "Liberation Sans", "align": "left", "baseline": "middle", "dx": 3},
          "encoding": {"x": {"datum": 125.4, "type": "quantitative"}, "y": {"field": "v", "type": "quantitative"}, "text": {"field": "t"}}
        }
      ]
    },
    {
      "width": 440,
      "height": 28,
      "layer": [
        {
          "data": {"name": "vol"},
          "mark": {"type": "bar", "size": 2.3, "color": "#4f5f80"},
          "encoding": {
            "x": {"field": "i", "type": "quantitative", "scale": {"domain": [-0.3, 125.4], "nice": false, "zero": false},
              "axis": {"orient": "bottom", "values": [11.4, 31.4, 51.4, 71.4, 91.4, 111.4], "grid": true, "labelPadding": 1, "labelColor": "#808080",
                "labelExpr": "datum.value < 20 ? '10/11' : datum.value < 40 ? '10/12' : datum.value < 60 ? '10/15' : datum.value < 80 ? '10/16' : datum.value < 100 ? '10/17' : '10/18'"}},
            "y": {"field": "v", "type": "quantitative", "scale": {"domain": [0, 127000], "nice": false},
              "axis": {"orient": "right", "values": [0, 100000], "grid": true, "labels": false}}
          }
        },
        {
          "data": {"name": "volma"},
          "transform": [{"filter": {"field": "s", "equal": "vp"}}],
          "mark": {"type": "line", "strokeWidth": 1, "color": "#b07ac0"},
          "encoding": {"x": {"field": "i", "type": "quantitative"}, "y": {"field": "v", "type": "quantitative"}}
        },
        {
          "data": {"name": "volma"},
          "transform": [{"filter": {"field": "s", "equal": "vo"}}],
          "mark": {"type": "line", "strokeWidth": 1, "color": "#f2a64a", "interpolate": "monotone"},
          "encoding": {"x": {"field": "i", "type": "quantitative"}, "y": {"field": "v", "type": "quantitative"}}
        },
        {
          "data": {"name": "volma"},
          "transform": [{"filter": {"field": "s", "equal": "vg"}}],
          "mark": {"type": "line", "strokeWidth": 1, "color": "#a6d77a", "interpolate": "monotone"},
          "encoding": {"x": {"field": "i", "type": "quantitative"}, "y": {"field": "v", "type": "quantitative"}}
        },
        {
          "data": {"values": [{"t": "出来高"}]},
          "mark": {"type": "text", "color": "#6f6f6f", "fontSize": 8, "align": "left", "baseline": "top", "dx": 0, "dy": 4},
          "encoding": {"x": {"datum": -0.3, "type": "quantitative"}, "y": {"datum": 127000, "type": "quantitative"}, "text": {"field": "t"}}
        },
        {
          "data": {"name": "volax"},
          "mark": {"type": "text", "color": "#8c8c8c", "fontSize": 9, "font": "Liberation Sans", "align": "left", "baseline": "middle", "dx": 3},
          "encoding": {"x": {"datum": 125.4, "type": "quantitative"}, "y": {"field": "v", "type": "quantitative"}, "text": {"field": "t"}}
        },
        {
          "data": {"name": "tip"},
          "mark": {"type": "point", "filled": true, "opacity": 1, "color": "#000000", "size": 4356, "shape": "M-1,-0.15L1,-0.15L1,0.15L-1,0.15Z"},
          "encoding": {"x": {"datum": 105.4, "type": "quantitative"}, "y": {"datum": 500, "type": "quantitative"}}
        },
        {
          "data": {"name": "tip"},
          "mark": {"type": "text", "color": "white", "fontSize": 8.5, "align": "center", "baseline": "middle"},
          "encoding": {"x": {"datum": 105.4, "type": "quantitative"}, "y": {"datum": 500, "type": "quantitative"}, "text": {"field": "t"}}
        }
      ]
    },
    {
      "width": 480,
      "height": 8,
      "layer": [
        {
          "data": {"name": "nav"},
          "mark": {"type": "area", "color": "#c3c9ea", "line": {"color": "#8d98d3", "strokeWidth": 1}},
          "encoding": {
            "x": {"field": "d", "type": "quantitative", "scale": {"domain": [0, 39], "nice": false, "zero": false}, "axis": null},
            "y": {"field": "p", "type": "quantitative", "scale": {"domain": [33000, 41500], "nice": false, "zero": false}, "axis": null}
          }
        },
        {
          "data": {"name": "sel"},
          "mark": {"type": "rect", "color": "#7f9de6", "opacity": 0.3},
          "encoding": {"x": {"field": "a", "type": "quantitative"}, "x2": {"field": "b"}}
        },
        {
          "data": {"name": "sel"},
          "mark": {"type": "rule", "color": "#3f74d4", "strokeWidth": 3},
          "encoding": {"x": {"field": "a", "type": "quantitative"}}
        },
        {
          "data": {"name": "sel"},
          "mark": {"type": "rule", "color": "#3f74d4", "strokeWidth": 3},
          "encoding": {"x": {"field": "b", "type": "quantitative"}}
        },
        {
          "data": {"name": "navlab"},
          "mark": {"type": "text", "color": "#7a839c", "fontSize": 8.5, "clip": true, "baseline": "middle", "dy": 0},
          "encoding": {"x": {"field": "d", "type": "quantitative"}, "text": {"field": "t"}}
        }
      ]
    }
  ]
}
